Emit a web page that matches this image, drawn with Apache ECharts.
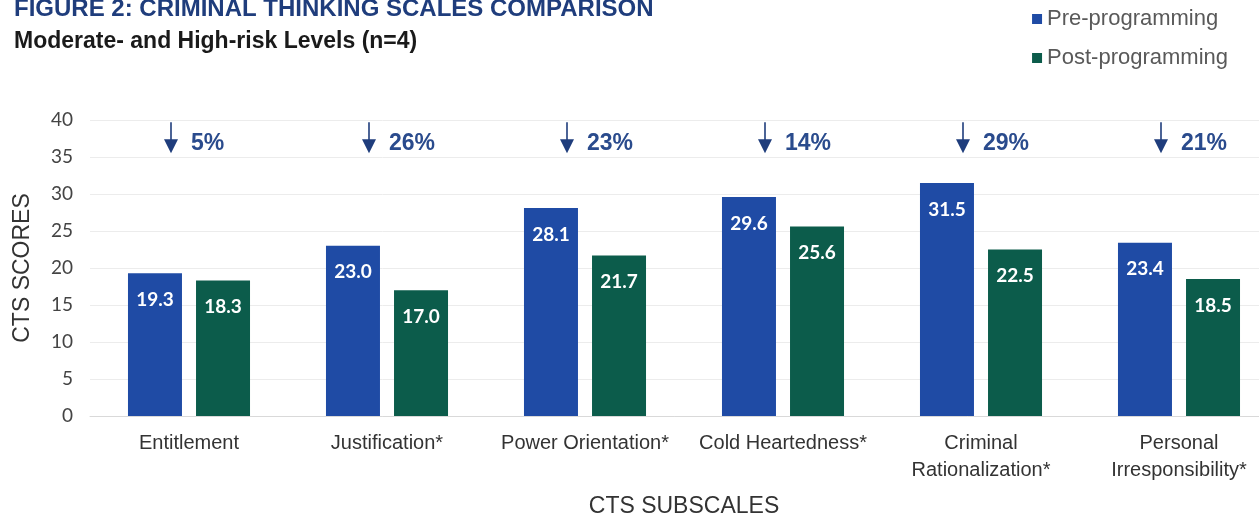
<!DOCTYPE html>
<html>
<head>
<meta charset="utf-8">
<script src="https://cdn.jsdelivr.net/npm/echarts@6/dist/echarts.min.js"></script>
<style>html,body{margin:0;padding:0;background:#fff}#c{width:1259px;height:517px}</style>
</head>
<body>
<div id="c"></div>
<script>
const categories = ['Entitlement', 'Justification*', 'Power Orientation*', 'Cold Heartedness*', 'Criminal\nRationalization*', 'Personal\nIrresponsibility*'];
const preValues = [19.3, 23.0, 28.1, 29.6, 31.5, 23.4];
const postValues = [18.3, 17.0, 21.7, 25.6, 22.5, 18.5];
const changePct = ['5%', '26%', '23%', '14%', '29%', '21%'];
const yTicks = { min: 0, max: 40, interval: 5 };
const seriesNames = ['Pre-programming', 'Post-programming'];

const BLUE = '#1F4BA5';
const GREEN = '#0C5C4B';
const NAVY = '#1F3D7C';
const ARROW_LEVEL = 37;

const chart = echarts.init(document.getElementById('c'), null, { renderer: 'canvas' });
chart.setOption({
  animation: false,
  backgroundColor: '#fff',
  title: [
    { text: 'FIGURE 2: CRIMINAL THINKING SCALES COMPARISON', left: 14, top: -3, padding: 0,
      textStyle: { fontFamily: 'Liberation Sans', fontWeight: 'bold', fontSize: 24, color: NAVY } },
    { text: 'Moderate- and High-risk Levels (n=4)', left: 14, top: 30, padding: 0,
      textStyle: { fontFamily: 'Liberation Sans', fontWeight: 'bold', fontSize: 23, color: '#1a1a1a' } }
  ],
  legend: {
    orient: 'vertical', right: 31, top: 7, itemWidth: 10, itemHeight: 10, itemGap: 15, icon: 'rect', padding: 0,
    data: seriesNames,
    textStyle: { fontFamily: 'Liberation Sans', fontSize: 22, color: '#595959', lineHeight: 24 }
  },
  grid: { left: 90, top: 120, width: 1188, height: 296, outerBoundsMode: 'none', containLabel: false },
  xAxis: {
    type: 'category', data: categories,
    axisLine: { lineStyle: { color: '#d9d9d9' } },
    axisTick: { show: false },
    axisLabel: { fontFamily: 'Liberation Sans', fontSize: 20, color: '#333', margin: 14, lineHeight: 27, interval: 0 },
    name: 'CTS SUBSCALES', nameLocation: 'middle', nameGap: 79,
    nameTextStyle: { fontFamily: 'Liberation Sans', fontSize: 23, color: '#333' }
  },
  yAxis: {
    type: 'value', min: yTicks.min, max: yTicks.max, interval: yTicks.interval,
    axisLine: { show: false }, axisTick: { show: false },
    splitLine: { lineStyle: { color: '#ececec' } },
    axisLabel: { fontFamily: 'Lato', fontSize: 19, color: '#444', margin: 17 },
    name: 'CTS SCORES', nameLocation: 'middle', nameGap: 56, nameRotate: 90,
    nameTextStyle: { fontFamily: 'Liberation Sans', fontSize: 23, color: '#333' }
  },
  series: [
    { name: seriesNames[0], type: 'bar', data: preValues, barWidth: 54, barGap: '26%',
      itemStyle: { color: BLUE },
      label: { show: true, position: 'insideTop', distance: 17, color: '#fff',
        fontFamily: 'Lato', fontWeight: 'bold', fontSize: 19, formatter: p => p.value.toFixed(1) } },
    { name: seriesNames[1], type: 'bar', data: postValues, barWidth: 54,
      itemStyle: { color: GREEN },
      label: { show: true, position: 'insideTop', distance: 17, color: '#fff',
        fontFamily: 'Lato', fontWeight: 'bold', fontSize: 19, formatter: p => p.value.toFixed(1) } },
    { type: 'custom', silent: true, z: 10,
      data: changePct.map((t, i) => [i, ARROW_LEVEL, t]),
      renderItem: function (params, api) {
        const p = api.coord([api.value(0), api.value(1)]);
        const ax = p[0] - 18;
        const y = p[1];
        return { type: 'group', children: [
          { type: 'line', shape: { x1: ax, y1: y - 20, x2: ax, y2: y }, style: { stroke: NAVY, lineWidth: 1.6 } },
          { type: 'polygon', shape: { points: [[ax - 7, y - 3], [ax + 7, y - 3], [ax, y + 11]] }, style: { fill: NAVY } },
          { type: 'text', style: { text: changePct[params.dataIndex], x: ax + 20, y: y + 1, verticalAlign: 'middle', align: 'left',
              font: 'bold 23px "Liberation Sans"', fill: '#2A4B8D' } }
        ] };
      }
    }
  ]
});
</script>
</body>
</html>
